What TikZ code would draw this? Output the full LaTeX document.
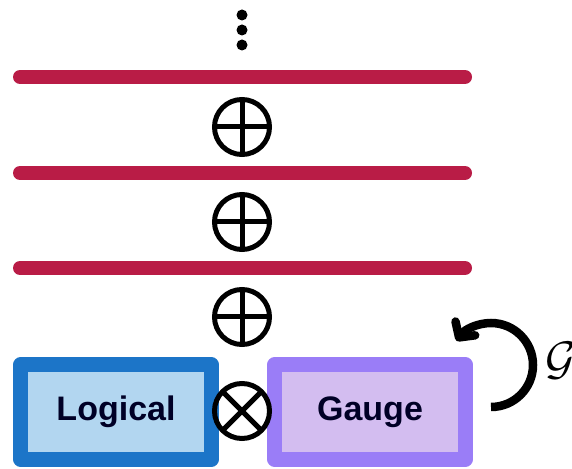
\documentclass[tikz,border=0pt]{standalone}
\usepackage{amssymb,amsmath}
\usepackage{fontspec}
\usetikzlibrary{arrows.meta,positioning}

\newfontfamily\boxfont{Liberation Sans}

\definecolor{wirered}{RGB}{185,28,70}
\definecolor{logicdark}{RGB}{28,117,200}
\definecolor{logiclight}{RGB}{178,214,240}
\definecolor{gaugedark}{RGB}{154,125,247}
\definecolor{gaugelight}{RGB}{211,189,240}

\tikzset{
  wire/.style={line width=14pt, wirered, line cap=round},
  ring/.style={circle, draw, line width=5pt, minimum size=55pt, inner sep=0pt},
  oplus/.style={ring, path picture={
      \draw[line width=5pt] (path picture bounding box.north) -- (path picture bounding box.south)
        (path picture bounding box.east) -- (path picture bounding box.west);}},
  otimes/.style={ring, path picture={
      \draw[line width=5pt] (path picture bounding box.north east) -- (path picture bounding box.south west)
        (path picture bounding box.north west) -- (path picture bounding box.south east);}},
  regbox/.style={line width=15pt, line join=round, minimum width=191pt, minimum height=94pt,
      font=\boxfont\bfseries\fontsize{34}{34}\selectfont, text=black!85!blue},
}

\begin{document}
\begin{tikzpicture}[x=1pt,y=1pt]

\useasboundingbox (0,0) rectangle (572,468);

% dots on top
\foreach \y in {423,438,453}
\fill (242,\y) circle (5.5pt);

% the three wires
\foreach \y in {391,295,200}
\draw[wire] (20,\y) -- (465,\y);

\foreach \y\name in {341/p1,246/p2,151/p3}
\node[oplus] (\name) at (242,\y) {};

% the two registers
\node[regbox, draw=logicdark, fill=logiclight] (logical) at (116,56) {Logical};
\node[regbox, draw=gaugedark, fill=gaugelight] (gauge) at (370,56) {Gauge};
\node[otimes] (prod) at (242,57) {};

% gauge action
\draw[line width=8.5pt, -{Straight Barb[length=11pt,width=24pt,round]}] (491,61) arc[start angle=-90, end angle=145, radius=42];
\node[anchor=west, inner sep=0pt, scale=4.7] (G) at (545,107) {$\mathcal{G}$};

\end{tikzpicture}
\end{document}
